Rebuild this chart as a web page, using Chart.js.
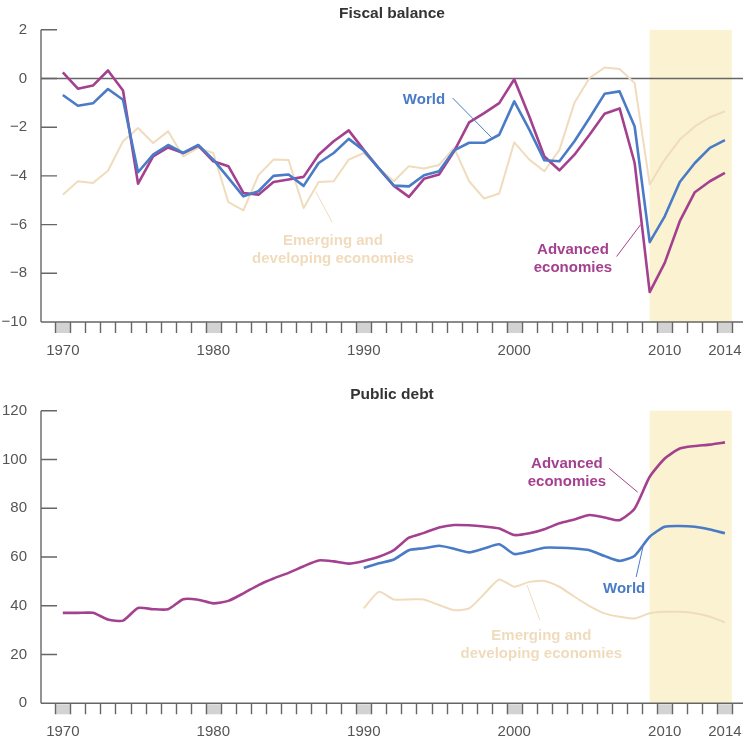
<!DOCTYPE html>
<html lang="en">
<head>
    <meta charset="UTF-8">
    <title>Fiscal balance and public debt</title>
    <script src="https://cdn.jsdelivr.net/npm/chart.js"></script>
    <style>
        body {
            margin: 0;
            background-color: #ffffff;
        }
        .panel {
            position: absolute;
            left: 0;
            width: 744px;
        }
        #fiscalBox { top: 0; height: 370px; }
        #debtBox { top: 370px; height: 368px; }
    </style>
</head>
<body>

    <div class="panel" id="fiscalBox"><canvas id="fiscal"></canvas></div>
    <div class="panel" id="debtBox"><canvas id="debt"></canvas></div>

    <script>
        // years on the x axis
        const years = [1970, 1971, 1972, 1973, 1974, 1975, 1976, 1977, 1978, 1979,
                       1980, 1981, 1982, 1983, 1984, 1985, 1986, 1987, 1988, 1989,
                       1990, 1991, 1992, 1993, 1994, 1995, 1996, 1997, 1998, 1999,
                       2000, 2001, 2002, 2003, 2004, 2005, 2006, 2007, 2008, 2009,
                       2010, 2011, 2012, 2013, 2014];

        // fiscal balance, % of GDP
        const fiscalAdvanced = [0.25, -0.42, -0.29, 0.33, -0.49, -4.32, -3.2, -2.83, -3.06, -2.76,
                                -3.4, -3.6, -4.7, -4.77, -4.25, -4.15, -4.04, -3.13, -2.58, -2.13,
                                -2.93, -3.69, -4.41, -4.86, -4.12, -3.94, -2.99, -1.8, -1.42, -1.01,
                                -0.03, -1.56, -3.2, -3.77, -3.13, -2.31, -1.45, -1.23, -3.47, -8.77,
                                -7.57, -5.86, -4.67, -4.22, -3.88];
        const fiscalWorld = [-0.68, -1.12, -1.02, -0.43, -0.87, -3.85, -3.13, -2.73, -3.06, -2.73,
                             -3.33, -4.08, -4.84, -4.63, -4.0, -3.94, -4.41, -3.47, -3.06, -2.48,
                             -2.96, -3.69, -4.4, -4.43, -3.97, -3.81, -2.95, -2.64, -2.64, -2.31,
                             -0.94, -2.1, -3.36, -3.4, -2.58, -1.62, -0.63, -0.53, -1.97, -6.72,
                             -5.66, -4.25, -3.47, -2.85, -2.53];
        const fiscalEmerging = [-4.77, -4.22, -4.29, -3.79, -2.58, -2.03, -2.65, -2.17, -3.2, -2.85,
                                -3.06, -5.08, -5.42, -3.97, -3.33, -3.35, -5.32, -4.25, -4.22, -3.33,
                                -3.06, -3.69, -4.22, -3.6, -3.7, -3.55, -2.85, -4.22, -4.93, -4.72,
                                -2.62, -3.33, -3.81, -2.93, -1.0, 0.02, 0.45, 0.39, -0.19, -4.35,
                                -3.33, -2.51, -1.97, -1.59, -1.35];

        // public debt, % of GDP
        const debtAdvanced = [37.1, 37.1, 37.1, 34.4, 33.9, 39.1, 38.6, 38.6, 42.7, 42.5,
                              41.0, 42.0, 45.1, 48.5, 51.2, 53.5, 56.2, 58.6, 58.2, 57.3,
                              58.4, 60.1, 62.8, 67.9, 69.9, 72.1, 73.1, 73.0, 72.5, 71.7,
                              69.0, 69.7, 71.4, 73.8, 75.4, 77.2, 76.2, 75.1, 79.9, 92.9,
                              100.4, 104.5, 105.5, 106.1, 107.0];
        const debtWorld = [null, null, null, null, null, null, null, null, null, null,
                           null, null, null, null, null, null, null, null, null, null,
                           55.5, 57.4, 59.0, 62.8, 63.6, 64.6, 63.4, 61.9, 63.5, 65.2,
                           61.2, 62.3, 63.8, 63.8, 63.5, 62.8, 60.4, 58.4, 60.5, 68.3,
                           72.4, 72.7, 72.4, 71.3, 69.7];
        const debtEmerging = [null, null, null, null, null, null, null, null, null, null,
                              null, null, null, null, null, null, null, null, null, null,
                              38.9, 45.7, 42.6, 42.6, 42.6, 40.3, 38.2, 38.9, 44.8, 50.8,
                              47.8, 49.8, 50.2, 47.8, 43.7, 39.9, 36.9, 35.5, 34.8, 36.9,
                              37.5, 37.5, 36.9, 35.5, 33.2];

        // axis labels
        const fiscalTicks = [2, 0, -2, -4, -6, -8, -10];
        const debtTicks = [120, 100, 80, 60, 40, 20, 0];
        const yearLabels = [1970, 1980, 1990, 2000, 2010, 2014];

        // projection period (shaded)
        const projFrom = 2009;
        const projTo = 2014.45;

        const WORLD = '#4a7bc6';
        const ADVANCED = '#a4418f';
        const EMERGING = '#f0dcbd';
        const SHADE = '#faf2d0';
        const AXIS = '#666666';
        const LABEL = '#555555';
        const FONT = "'Liberation Sans', Arial, sans-serif";

        function points(vals) {
            return years.map((yr, i) => ({ x: yr, y: vals[i] }));
        }

        // shading, hand drawn axes (ticks point inward), titles and callouts
        const decor = {
            id: 'decor',
            beforeDraw(chart, args, opts) {
                const { ctx, chartArea: a, scales: { x } } = chart;
                const x0 = x.getPixelForValue(projFrom);
                const x1 = x.getPixelForValue(projTo);
                ctx.save();
                ctx.fillStyle = SHADE;
                ctx.fillRect(x0, a.top, x1 - x0, a.bottom - a.top);
                ctx.restore();
            },
            beforeDatasetsDraw(chart, args, opts) {
                const { ctx, chartArea: a, scales: { x, y } } = chart;
                ctx.save();
                ctx.strokeStyle = AXIS;
                ctx.lineWidth = 1.4;

                // gray boxes under labelled years
                ctx.fillStyle = '#d3d3d3';
                yearLabels.forEach(yr => {
                    const l = x.getPixelForValue(yr - 0.5);
                    const r = x.getPixelForValue(yr + 0.5);
                    ctx.fillRect(l, a.bottom + 1, r - l, 10);
                });

                ctx.beginPath();
                // y axis
                ctx.moveTo(a.left, a.top);
                ctx.lineTo(a.left, a.bottom);
                // x axis
                ctx.moveTo(a.left, a.bottom);
                ctx.lineTo(a.right, a.bottom);
                // y ticks, inward
                opts.yTicks.forEach(v => {
                    const py = y.getPixelForValue(v);
                    ctx.moveTo(a.left, py);
                    ctx.lineTo(a.left + 16, py);
                });
                // year ticks
                for (let b = years[0] - 0.5; b <= years[years.length - 1] + 0.5; b++) {
                    const px = Math.round(x.getPixelForValue(b)) + 0.5;
                    ctx.moveTo(px, a.bottom);
                    ctx.lineTo(px, a.bottom + 11);
                }
                ctx.stroke();

                if (opts.zeroLine) {
                    const pz = y.getPixelForValue(0);
                    ctx.lineWidth = 1.5;
                    ctx.beginPath();
                    ctx.moveTo(a.left, pz);
                    ctx.lineTo(a.right, pz);
                    ctx.stroke();
                }

                // title
                ctx.fillStyle = '#333333';
                ctx.font = 'bold 15.5px ' + FONT;
                ctx.textAlign = 'center';
                ctx.textBaseline = 'middle';
                ctx.fillText(opts.title, (a.left + a.right) / 2, a.top - 16);
                ctx.restore();
            },
            afterDatasetsDraw(chart, args, opts) {
                const { ctx, scales: { x, y } } = chart;
                ctx.save();
                opts.notes.forEach(n => {
                    ctx.strokeStyle = n.color;
                    ctx.lineWidth = 1;
                    ctx.beginPath();
                    ctx.moveTo(x.getPixelForValue(n.from[0]), y.getPixelForValue(n.from[1]));
                    ctx.lineTo(x.getPixelForValue(n.to[0]), y.getPixelForValue(n.to[1]));
                    ctx.stroke();

                    ctx.fillStyle = n.color;
                    ctx.font = 'bold 15px ' + FONT;
                    ctx.textAlign = 'center';
                    ctx.textBaseline = 'middle';
                    const px = x.getPixelForValue(n.x);
                    const py = y.getPixelForValue(n.y);
                    n.text.forEach((t, i) => ctx.fillText(t, px, py + i * 18));
                });
                ctx.restore();
            }
        };

        function lineSet(label, vals, color, width, smooth) {
            return {
                label: label,
                data: points(vals),
                borderColor: color,
                borderWidth: width,
                pointRadius: 0,
                borderJoinStyle: 'round',
                fill: false,
                tension: smooth
            };
        }

        function MakeChart(id, sets, ticks, yMin, yMax, padTop, xHeight, deco) {
            return new Chart(document.getElementById(id), {
                type: 'line',
                data: { datasets: sets },
                plugins: [decor],
                options: {
                    responsive: true,
                    maintainAspectRatio: false,
                    animation: false,
                    layout: { padding: { top: padTop, right: 1, left: 0, bottom: 0 } },
                    scales: {
                        x: {
                            type: 'linear',
                            min: 1968.55,
                            max: 2015.2,
                            grid: { display: false },
                            border: { display: false },
                            afterBuildTicks: s => { s.ticks = yearLabels.map(v => ({ value: v })); },
                            afterFit: s => { s.height = xHeight; s.paddingLeft = 0; s.paddingRight = 0; },
                            ticks: {
                                autoSkip: false,
                                maxRotation: 0,
                                padding: 12,
                                color: LABEL,
                                font: { family: FONT, size: 15 },
                                callback: v => String(v)
                            }
                        },
                        y: {
                            min: yMin,
                            max: yMax,
                            grid: { display: false },
                            border: { display: false },
                            afterBuildTicks: s => { s.ticks = ticks.map(v => ({ value: v })); },
                            afterFit: s => { s.width = 41; },
                            ticks: {
                                padding: 6,
                                color: LABEL,
                                font: { family: FONT, size: 15 },
                                callback: v => String(v).replace('-', '\u2212')
                            }
                        }
                    },
                    plugins: {
                        legend: { display: false },
                        tooltip: { enabled: false },
                        decor: deco
                    }
                }
            });
        }

        MakeChart('fiscal', [
            lineSet('World', fiscalWorld, WORLD, 2.6, 0),
            lineSet('Advanced economies', fiscalAdvanced, ADVANCED, 2.6, 0),
            lineSet('Emerging and developing economies', fiscalEmerging, EMERGING, 2, 0)
        ], fiscalTicks, -10, 2, 29.8, 48, {
            title: 'Fiscal balance',
            yTicks: fiscalTicks,
            zeroLine: true,
            notes: [
                { text: ['World'], x: 1994.0, y: -0.87, color: WORLD, from: [1995.9, -0.8], to: [1998.5, -2.43] },
                { text: ['Advanced', 'economies'], x: 2003.9, y: -7.02, color: ADVANCED, from: [2006.8, -7.31], to: [2008.4, -6.0] },
                { text: ['Emerging and', 'developing economies'], x: 1987.95, y: -6.65, color: EMERGING, from: [1987.9, -5.91], to: [1986.8, -4.64] }
            ]
        });

        MakeChart('debt', [
            lineSet('World', debtWorld, WORLD, 2.6, 0.2),
            lineSet('Advanced economies', debtAdvanced, ADVANCED, 2.6, 0.2),
            lineSet('Emerging and developing economies', debtEmerging, EMERGING, 2, 0.2)
        ], debtTicks, 0, 120, 40.7, 34.7, {
            title: 'Public debt',
            yTicks: debtTicks,
            zeroLine: false,
            notes: [
                { text: ['Advanced', 'economies'], x: 2003.5, y: 98.1, color: ADVANCED, from: [2006.3, 96.4], to: [2008.2, 86.6] },
                { text: ['World'], x: 2007.3, y: 46.8, color: WORLD, from: [2008.1, 51.8], to: [2008.55, 64.1] },
                { text: ['Emerging and', 'developing economies'], x: 2001.8, y: 27.6, color: EMERGING, from: [2001.7, 34.1], to: [2000.85, 48.5] }
            ]
        });
    </script>

</body>
</html>
